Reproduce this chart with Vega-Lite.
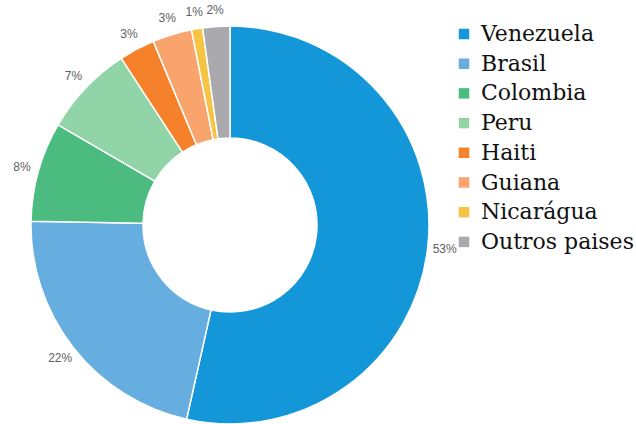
{
  "$schema": "https://vega.github.io/schema/vega-lite/v6.json",
  "autosize": "none",
  "width": 460,
  "height": 398,
  "padding": {"top": 26, "left": 0, "right": 176, "bottom": 0},
  "background": "white",
  "data": {"values": [
    {"pais": "Venezuela", "valor": 53.5, "label": "53%", "rank": 1},
    {"pais": "Brasil", "valor": 21.8, "label": "22%", "rank": 2},
    {"pais": "Colombia", "valor": 8.1, "label": "8%", "rank": 3},
    {"pais": "Peru", "valor": 7.4, "label": "7%", "rank": 4},
    {"pais": "Haiti", "valor": 2.9, "label": "3%", "rank": 5},
    {"pais": "Guiana", "valor": 3.2, "label": "3%", "rank": 6},
    {"pais": "Nicarágua", "valor": 0.9, "label": "1%", "rank": 7},
    {"pais": "Outros paises", "valor": 2.2, "label": "2%", "rank": 8}
  ]},
  "encoding": {
    "theta": {"field": "valor", "type": "quantitative", "stack": true},
    "order": {"field": "rank", "type": "quantitative"},
    "color": {
      "field": "pais",
      "type": "nominal",
      "scale": {
        "domain": ["Venezuela", "Brasil", "Colombia", "Peru", "Haiti", "Guiana", "Nicarágua", "Outros paises"],
        "range": ["#1497D8", "#66ADE0", "#4CBB7F", "#90D4A8", "#F5822A", "#F9A46C", "#F6C343", "#A9A9AE"]
      },
      "legend": {
        "title": null,
        "orient": "none",
        "legendX": 453,
        "legendY": -3,
        "symbolType": "square",
        "symbolSize": 110,
        "symbolStrokeWidth": 0,
        "labelFont": "DejaVu Serif",
        "labelFontSize": 22,
        "labelColor": "#111111",
        "labelOffset": 6,
        "labelLimit": 300,
        "rowPadding": 7.7
      }
    }
  },
  "layer": [
    {
      "mark": {"type": "arc", "outerRadius": 199, "innerRadius": 87, "stroke": "white", "strokeWidth": 1.5}
    },
    {
      "mark": {"type": "text", "radius": 216, "font": "Liberation Sans", "fontSize": 12, "color": "#606060"},
      "encoding": {
        "text": {"field": "label", "type": "nominal"},
        "color": {"value": "#606060"}
      }
    }
  ],
  "config": {"view": {"stroke": null}}
}
